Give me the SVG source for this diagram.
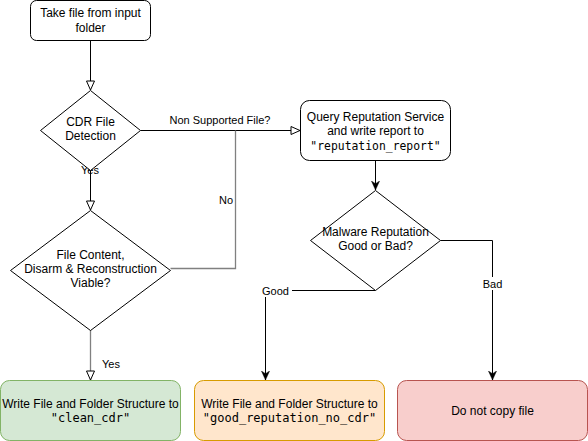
<svg xmlns="http://www.w3.org/2000/svg" width="588" height="441" viewBox="0 0 588 441">
<style>
.t{font-family:"Liberation Sans",Arial,sans-serif;font-size:12px;fill:#000;text-anchor:middle}
.m{font-family:"DejaVu Sans Mono","Liberation Mono",monospace;font-size:12px;fill:#000;text-anchor:middle}
.s{fill:#fff;stroke:#000;stroke-width:1}
.e{fill:none;stroke:#000;stroke-width:1}
.g{fill:none;stroke:#808080;stroke-width:1.3}
.lbl{font-family:"Liberation Sans",Arial,sans-serif;font-size:11px;fill:#000;text-anchor:middle}
</style>
<defs>
<marker id="open" viewBox="0 0 10 10" refX="10" refY="5" markerWidth="10" markerHeight="10" markerUnits="userSpaceOnUse" orient="auto">
<path d="M1,1 L10,5 L1,9 Z" fill="#fff" stroke="#000" stroke-width="1"/>
</marker>
<marker id="solid" viewBox="0 0 10 10" refX="10" refY="5" markerWidth="9" markerHeight="9" markerUnits="userSpaceOnUse" orient="auto">
<path d="M0,0.5 L10,5 L0,9.5 L3,5 Z" fill="#000" stroke="#000" stroke-width="0.5"/>
</marker>
</defs>
<g id="connectors">
<path class="e" d="M90.5,40.5 V90" marker-end="url(#open)"/>
<path class="e" d="M140.5,130.5 H300" marker-end="url(#open)"/>
<text class="lbl" x="220" y="124">Non Supported File?</text>
<path class="e" d="M90.5,170 V210" marker-end="url(#open)"/>
<text class="lbl" x="90" y="174">Yes</text>
<path class="g" d="M170.5,268.5 H235.5 V130.5"/>
<text class="lbl" x="226" y="204">No</text>
<path class="g" d="M90.5,330 V380" marker-end="url(#open)"/>
<text class="lbl" x="111" y="368">Yes</text>
<path class="e" d="M375.5,160.5 V190" marker-end="url(#solid)"/>
<path class="e" d="M375.5,290.5 H265.5 V380" marker-end="url(#solid)"/>
<rect x="259" y="284" width="33" height="13" fill="#fff"/>
<text class="lbl" x="275.5" y="294.5">Good</text>
<path class="e" d="M440.5,240.5 H492.5 V380" marker-end="url(#solid)"/>
<rect x="480" y="277" width="25" height="13" fill="#fff"/>
<text class="lbl" x="492.5" y="288">Bad</text>
</g>
<g id="start">
<rect class="s" x="30.5" y="0.5" width="120" height="40" rx="6"/>
<text class="t" x="90.5" y="17">Take file from input</text>
<text class="t" x="90.5" y="32">folder</text>
</g>
<g id="cdr-detect">
<path class="s" d="M90.5,90.5 L140.5,130.5 L90.5,170.5 L40.5,130.5 Z"/>
<text class="t" x="90.5" y="126">CDR File</text>
<text class="t" x="90.5" y="140">Detection</text>
</g>
<g id="viable">
<path class="s" d="M90.5,210.5 L170.5,270.5 L90.5,330.5 L10.5,270.5 Z"/>
<text class="t" x="90.5" y="259">File Content,</text>
<text class="t" x="90.5" y="273">Disarm &amp; Reconstruction</text>
<text class="t" x="90.5" y="287">Viable?</text>
</g>
<g id="query">
<rect class="s" x="300.5" y="100.5" width="150" height="60" rx="9"/>
<text class="t" x="375.5" y="121">Query Reputation Service</text>
<text class="t" x="375.5" y="135">and write report to</text>
<text class="m" x="375.5" y="150" style="font-size:11.4px">"reputation_report"</text>
</g>
<g id="malware">
<path class="s" d="M375.5,190.5 L440.5,240.5 L375.5,290.5 L310.5,240.5 Z"/>
<text class="t" x="375.5" y="236">Malware Reputation</text>
<text class="t" x="375.5" y="250">Good or Bad?</text>
</g>
<g id="clean">
<rect x="0.5" y="380.5" width="180" height="60" rx="9" fill="#d5e8d4" stroke="#82b366"/>
<text class="t" x="90.5" y="408">Write File and Folder Structure to</text>
<text class="m" x="90.5" y="422">"clean_cdr"</text>
</g>
<g id="good">
<rect x="194.5" y="380.5" width="190" height="60" rx="9" fill="#ffe6cc" stroke="#d79b00"/>
<text class="t" x="289.5" y="408">Write File and Folder Structure to</text>
<text class="m" x="289.5" y="422">"good_reputation_no_cdr"</text>
</g>
<g id="bad">
<rect x="397.5" y="380.5" width="190" height="60" rx="9" fill="#f8cecc" stroke="#b85450"/>
<text class="t" x="492.5" y="415">Do not copy file</text>
</g>
</svg>
